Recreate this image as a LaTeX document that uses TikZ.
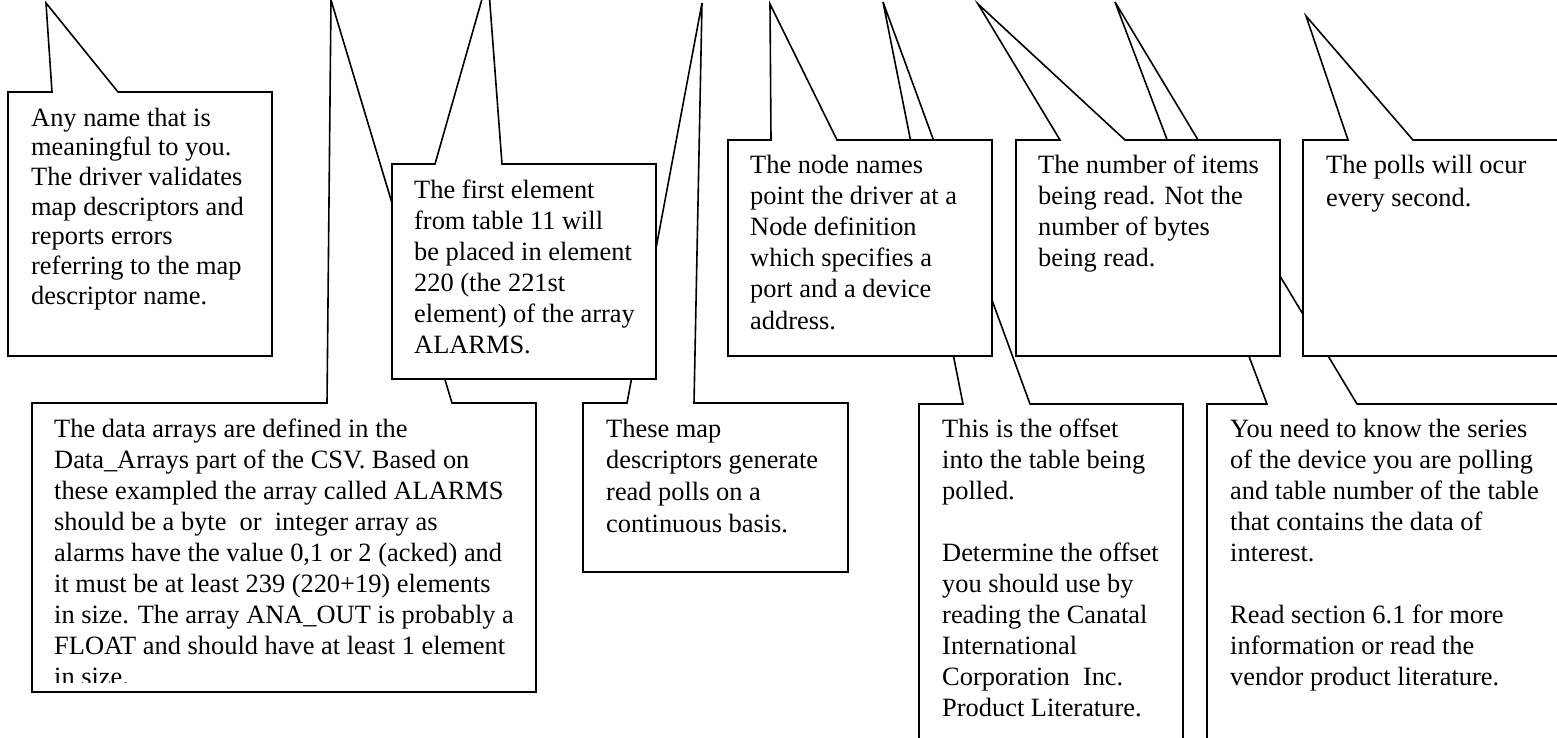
\documentclass[tikz,border=0pt]{standalone}
\usepackage{fontspec}
\setmainfont{Liberation Serif}
\newcommand{\calltext}[1]{\begin{tabular}[t]{@{}l@{}}#1\end{tabular}}
\tikzset{
  callout/.style={draw=black, fill=white, line width=1.6pt, line join=miter},
  txt/.style={anchor=base west, inner sep=0pt, font=\fontsize{26.4}{#1}\selectfont},
  txt/.default=31
}
\begin{document}
\begin{tikzpicture}[x=1pt,y=-1pt]
\useasboundingbox (0,0) rectangle (1557,737);
\clip (0,0) rectangle (1557,737);
\fill[white] (0,0) rectangle (1557,737);

% ---------- bottom row ----------
% D: data arrays
\draw[callout] (32,403) -- (327,403) -- (331,0) -- (452,403) -- (536,403)
  -- (536,692) -- (32,692) -- cycle;
\begin{scope}
\clip (32,403) rectangle (536,682);
\node[txt=31] (tD) at (54,437) {\calltext{The data arrays are defined in the\\
Data\_Arrays part of the CSV. Based on\\
these exampled the array called ALARMS\\
should be a byte\ \ or\ \ integer array as\\
alarms have the value 0,1 or 2 (acked) and\\
it must be at least 239 (220+19) elements\\
in size. The array ANA\_OUT is probably a\\
FLOAT and should have at least 1 element\\
in size.}};
\end{scope}

% C: map descriptors
\draw[callout] (583,403) -- (627,403) -- (702,3) -- (694,403) -- (848,403)
  -- (848,572) -- (583,572) -- cycle;
\node[txt=31.7] (tC) at (606,437) {\calltext{These map\\
descriptors generate\\
read polls on a\\
continuous basis.}};

% F: offset
\draw[callout] (919,404) -- (963,404) -- (883,2) -- (1030,404) -- (1183,404)
  -- (1183,760) -- (919,760) -- cycle;
\node[txt=31] (tF) at (942,437) {\calltext{This is the offset\\
into the table being\\
polled.\\
\\
Determine the offset\\
you should use by\\
reading the Canatal\\
International\\
Corporation\ \ Inc.\\
Product Literature.}};

% G: series
\draw[callout] (1207,404) -- (1267,404) -- (1115,2) -- (1357,404) -- (1590,404)
  -- (1590,760) -- (1207,760) -- cycle;
\node[txt=31] (tG) at (1230,437) {\calltext{You need to know the series\\
of the device you are polling\\
and table number of the table\\
that contains the data of\\
interest.\\
\\
Read section 6.1 for more\\
information or read the\\
vendor product literature.}};

% ---------- top row ----------
% A: any name
\draw[callout] (8,92) -- (52,92) -- (46,3) -- (118,92) -- (272,92)
  -- (272,356) -- (8,356) -- cycle;
\node[txt=29.7] (tA) at (31,126) {\calltext{Any name that is\\
meaningful to you.\\
The driver validates\\
map descriptors and\\
reports errors\\
referring to the map\\
descriptor name.}};

% B: first element
\draw[callout] (392,164) -- (435,164) -- (488,-22) -- (502,164) -- (656,164)
  -- (656,379) -- (392,379) -- cycle;
\node[txt=31] (tB) at (414,198) {\calltext{The first element\\
from table 11 will\\
be placed in element\\
220 (the 221st\\
element) of the array\\
ALARMS.}};

% E: node names
\draw[callout] (728,140) -- (771,140) -- (770,4) -- (837,140) -- (992,140)
  -- (992,356) -- (728,356) -- cycle;
\node[txt=31.2] (tE) at (750,173) {\calltext{The node names\\
point the driver at a\\
Node definition\\
which specifies a\\
port and a device\\
address.}};

% H: number of items
\draw[callout] (1016,140) -- (1060,140) -- (978,4) -- (1125,140) -- (1280,140)
  -- (1280,356) -- (1016,356) -- cycle;
\node[txt=31.3] (tH) at (1038,173) {\calltext{The number of items\\
being read. Not the\\
number of bytes\\
being read.}};

% I: polls
\draw[callout] (1303,140) -- (1348,140) -- (1306,16) -- (1413,140) -- (1590,140)
  -- (1590,356) -- (1303,356) -- cycle;
\node[txt=33.5] (tI) at (1326,173) {\calltext{The polls will ocur\\
every second.}};
\end{tikzpicture}
\end{document}
